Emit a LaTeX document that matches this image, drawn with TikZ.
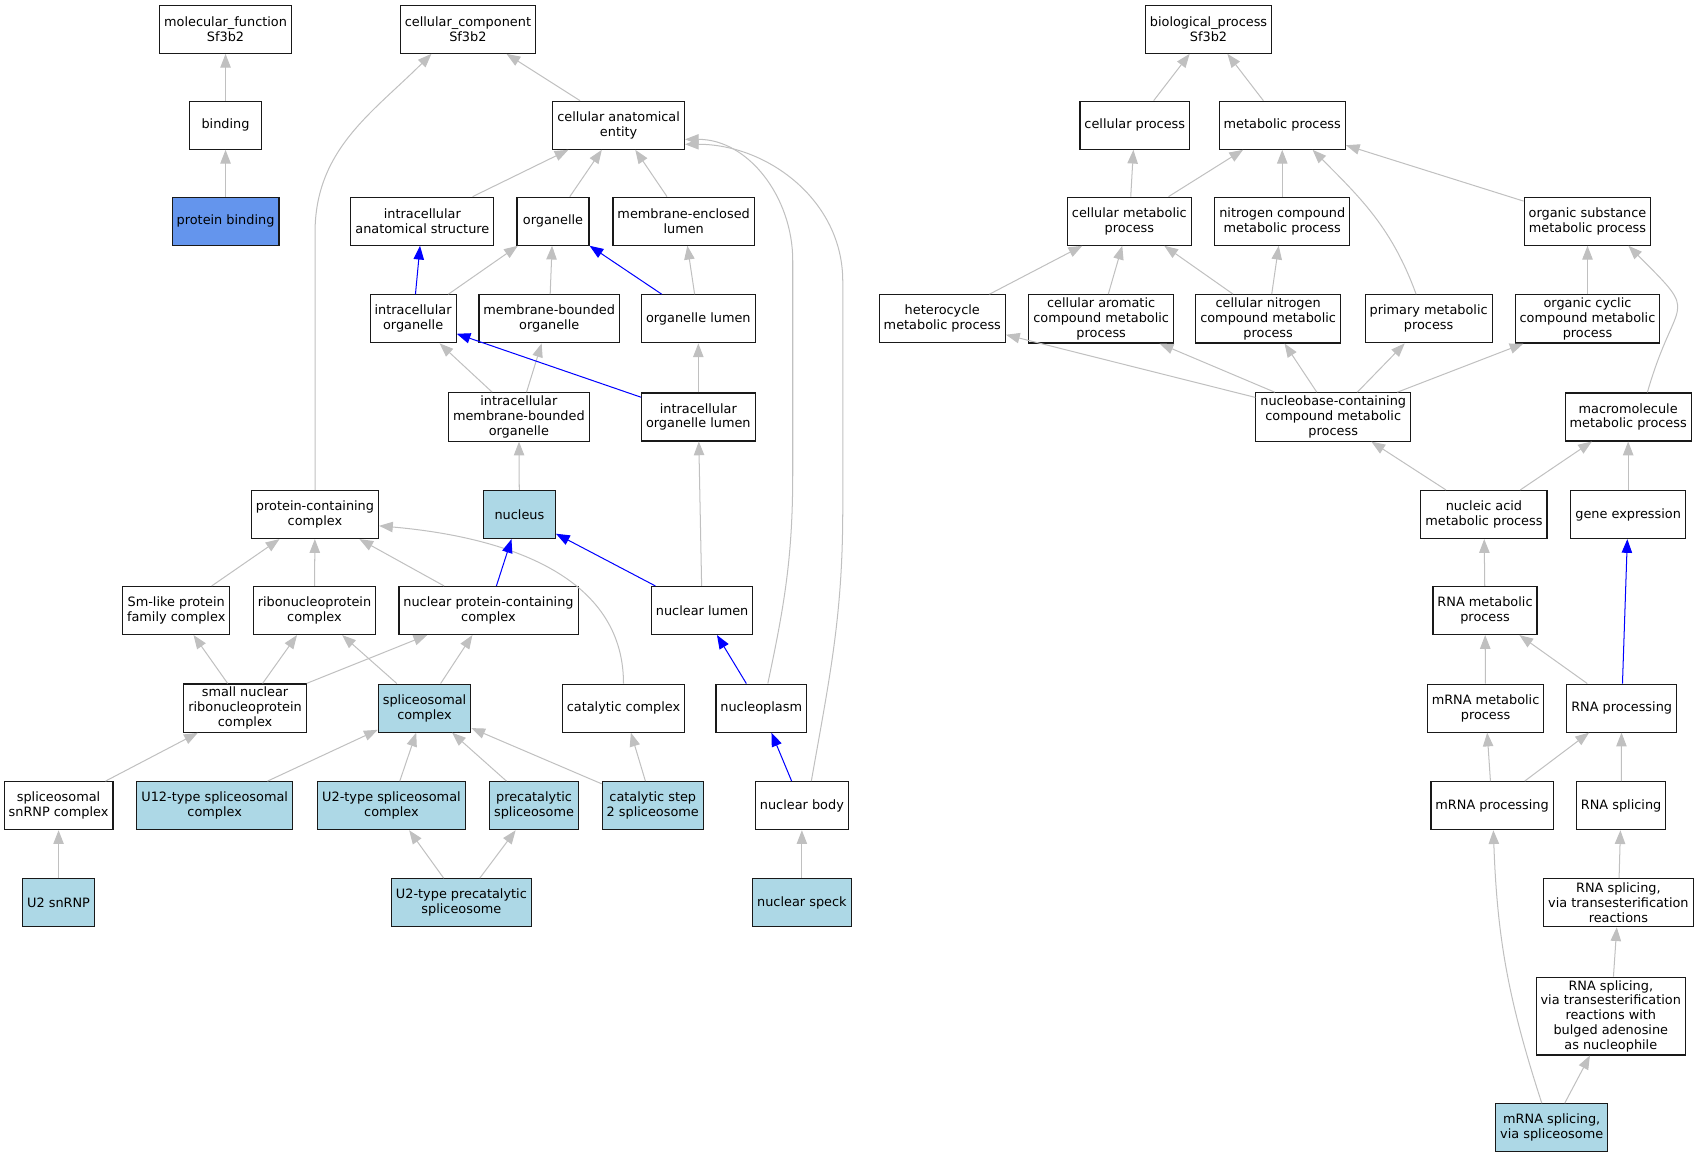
\documentclass[tikz,border=0pt]{standalone}
\usepackage{fontspec}
\setmainfont{DejaVu Sans}
\usepackage{tikz}
\usetikzlibrary{arrows.meta}
\definecolor{lightblue}{HTML}{ADD8E6}
\definecolor{cornflower}{HTML}{6495ED}
\definecolor{edgegray}{HTML}{C0C0C0}

\begin{document}
\begin{tikzpicture}[x=0.75pt,y=0.75pt]
\useasboundingbox (0,0) rectangle (1565,-1067);
\tikzstyle{term}=[draw=black!90,line width=0.8pt,fill=white,align=center,font=\fontsize{8.9}{10.2}\selectfont,minimum width=49.8pt,minimum height=33.2pt,inner xsep=3.1pt,inner ysep=2.2pt]
\tikzstyle{hit}=[term,fill=lightblue]
\tikzstyle{isa}=[draw=edgegray,line width=0.7pt,-{Triangle[length=9.5pt,width=7.2pt]}]
\tikzstyle{partof}=[isa,draw=blue]
% molecular function
\node[term] (mf)at(208,-27) {molecular\_function\\Sf3b2};
\node[term] (bind)at(208,-115.5) {binding};
\node[term,fill=cornflower] (pb)at(208,-204) {protein binding};
% cellular component
\node[term] (cc)at(431.5,-27) {cellular\_component\\Sf3b2};
\node[term] (cae)at(570.5,-115.5) {cellular anatomical\\entity};
\node[term] (ias)at(389.5,-204) {intracellular\\anatomical structure};
\node[term] (org)at(510,-204) {organelle};
\node[term] (mel)at(630.5,-204) {membrane-enclosed\\lumen};
\node[term] (io)at(381,-294) {intracellular\\organelle};
\node[term] (mbo)at(506.5,-294) {membrane-bounded\\organelle};
\node[term] (ol)at(644,-294) {organelle lumen};
\node[term] (imbo)at(478.5,-384.5) {intracellular\\membrane-bounded\\organelle};
\node[term] (iol)at(644,-384.5) {intracellular\\organelle lumen};
\node[term] (pcc)at(290.5,-474.5) {protein-containing\\complex};
\node[hit] (nuc)at(479,-474.5) {nucleus};
\node[term] (sml)at(162.5,-563) {Sm-like protein\\family complex};
\node[term] (rnp)at(290,-563) {ribonucleoprotein\\complex};
\node[term] (npc)at(450.5,-563) {nuclear protein-containing\\complex};
\node[term] (nl)at(647.5,-563) {nuclear lumen};
\node[term] (snrnp)at(226,-653) {small nuclear\\ribonucleoprotein\\complex};
\node[hit] (spc)at(391.5,-653) {spliceosomal\\complex};
\node[term] (cat)at(575,-653) {catalytic complex};
\node[term] (np)at(702,-653) {nucleoplasm};
\node[term] (ssc)at(54,-743) {spliceosomal\\snRNP complex};
\node[hit] (u12)at(198,-743) {U12-type spliceosomal\\complex};
\node[hit] (u2sc)at(361,-743) {U2-type spliceosomal\\complex};
\node[hit] (pre)at(492.5,-743) {precatalytic\\spliceosome};
\node[hit] (cs2)at(602,-743) {catalytic step\\2 spliceosome};
\node[term] (nb)at(739.5,-743) {nuclear body};
\node[hit] (u2)at(54,-832.5) {U2 snRNP};
\node[hit] (u2pre)at(425.5,-832.5) {U2-type precatalytic\\spliceosome};
\node[hit] (ns)at(739.5,-832.5) {nuclear speck};
% biological process
\node[term] (bp)at(1114.5,-27) {biological\_process\\Sf3b2};
\node[term] (cp)at(1046.5,-115.5) {cellular process};
\node[term] (mp)at(1182.5,-115.5) {metabolic process};
\node[term] (cmp)at(1041.5,-204) {cellular metabolic\\process};
\node[term] (ncmp)at(1182.5,-204) {nitrogen compound\\metabolic process};
\node[term] (osmp)at(1464,-204) {organic substance\\metabolic process};
\node[term] (hmp)at(869,-294) {heterocycle\\metabolic process};
\node[term] (camp)at(1015.5,-294) {cellular aromatic\\compound metabolic\\process};
\node[term] (cnmp)at(1169.5,-294) {cellular nitrogen\\compound metabolic\\process};
\node[term] (pmp)at(1317.5,-294) {primary metabolic\\process};
\node[term] (ocmp)at(1464,-294) {organic cyclic\\compound metabolic\\process};
\node[term] (nbmp)at(1229.5,-384.5) {nucleobase-containing\\compound metabolic\\process};
\node[term] (mmp)at(1501.5,-384.5) {macromolecule\\metabolic process};
\node[term] (namp)at(1368.5,-474.5) {nucleic acid\\metabolic process};
\node[term] (ge)at(1501.5,-474.5) {gene expression};
\node[term] (rmp)at(1369.5,-563) {RNA metabolic\\process};
\node[term] (mrmp)at(1370,-653) {mRNA metabolic\\process};
\node[term] (rp)at(1495.5,-653) {RNA processing};
\node[term] (mrp)at(1376,-743) {mRNA processing};
\node[term] (rs)at(1495,-743) {RNA splicing};
\node[term] (rst)at(1492.5,-832.5) {RNA splicing,\\via transesterification\\reactions};
\node[term] (rsb)at(1485.5,-937) {RNA splicing,\\via transesterification\\reactions with\\bulged adenosine\\as nucleophile};
\node[hit] (mrs)at(1431,-1040) {mRNA splicing,\\via spliceosome};
% is_a edges, left
\draw[isa] (bind)--(mf);
\draw[isa] (pb)--(bind);
\draw[isa] (cae)--(cc);
\draw[isa] (pcc.north)-- ++(0,237) to[out=90,in=-135] (cc.-146);
\draw[isa] (ias)--(cae);
\draw[isa] (org)--(cae);
\draw[isa] (mel)--(cae);
\draw[isa] (np.75) to[out=78,in=-90] ++(23,195) -- ++(0,195) to[out=90,in=0] (cae.-12);
\draw[isa] (nb.69) to[out=80,in=-90] ++(29,251) -- ++(0,210) to[out=90,in=0] (cae.-16);
\draw[isa] (io)--(org);
\draw[isa] (mbo)--(org);
\draw[isa] (ol)--(mel);
\draw[isa] (imbo)--(io);
\draw[isa] (imbo)--(mbo);
\draw[isa] (iol)--(ol);
\draw[isa] (nuc)--(imbo);
\draw[isa] (nl)--(iol);
\draw[isa] (sml)--(pcc);
\draw[isa] (rnp)--(pcc);
\draw[isa] (npc)--(pcc);
\draw[isa] (cat.north) to[out=90,in=-5] (pcc.-10);
\draw[isa] (snrnp)--(sml);
\draw[isa] (snrnp)--(rnp);
\draw[isa] (snrnp)--(npc);
\draw[isa] (spc)--(rnp);
\draw[isa] (spc)--(npc);
\draw[isa] (ssc)--(snrnp);
\draw[isa] (u12)--(spc);
\draw[isa] (u2sc)--(spc);
\draw[isa] (pre)--(spc);
\draw[isa] (cs2)--(spc);
\draw[isa] (cs2)--(cat);
\draw[isa] (u2)--(ssc);
\draw[isa] (u2pre)--(u2sc);
\draw[isa] (u2pre)--(pre);
\draw[isa] (ns)--(nb);
% part_of edges
\draw[partof] (io)--(ias);
\draw[partof] (ol)--(org);
\draw[partof] (iol)--(io);
\draw[partof] (npc)--(nuc);
\draw[partof] (nl)--(nuc);
\draw[partof] (np)--(nl);
\draw[partof] (nb)--(np);
\draw[partof] (rp)--(ge);
% is_a edges, right
\draw[isa] (cp)--(bp);
\draw[isa] (mp)--(bp);
\draw[isa] (cmp)--(cp);
\draw[isa] (cmp)--(mp);
\draw[isa] (ncmp)--(mp);
\draw[isa] (osmp)--(mp);
\draw[isa] (pmp.117) to[out=110,in=-45] (mp.-39);
\draw[isa] (hmp)--(cmp);
\draw[isa] (camp)--(cmp);
\draw[isa] (cnmp)--(cmp);
\draw[isa] (cnmp)--(ncmp);
\draw[isa] (ocmp)--(osmp);
\draw[isa] (mmp.52) to[out=74,in=-45,looseness=1.8] (osmp.-31);
\draw[isa] (nbmp)--(hmp);
\draw[isa] (nbmp)--(camp);
\draw[isa] (nbmp)--(cnmp);
\draw[isa] (nbmp)--(pmp);
\draw[isa] (nbmp)--(ocmp);
\draw[isa] (namp)--(nbmp);
\draw[isa] (namp)--(mmp);
\draw[isa] (ge)--(mmp);
\draw[isa] (rmp)--(namp);
\draw[isa] (mrmp)--(rmp);
\draw[isa] (rp)--(rmp);
\draw[isa] (mrp)--(mrmp);
\draw[isa] (mrp)--(rp);
\draw[isa] (rs)--(rp);
\draw[isa] (rst)--(rs);
\draw[isa] (rsb)--(rst);
\draw[isa] (mrs)--(rsb);
\draw[isa] (mrs.112) to[out=108,in=-88] (mrp.-87);
\end{tikzpicture}
\end{document}
